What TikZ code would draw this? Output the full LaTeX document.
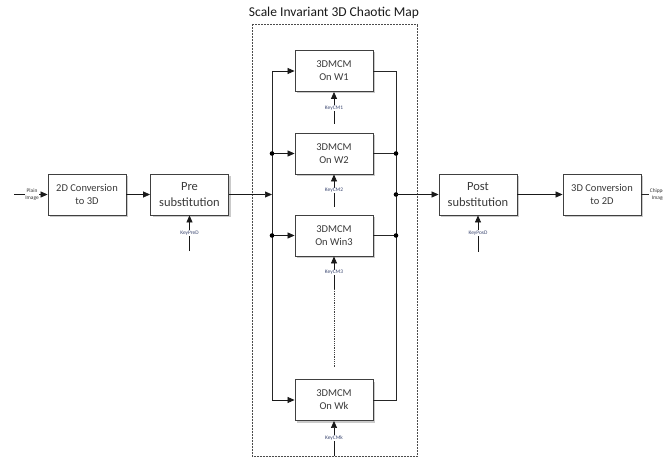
\documentclass[tikz,border=0pt]{standalone}
\usepackage{fontspec}
\setmainfont{Carlito}
\usetikzlibrary{arrows.meta,shadows}
\definecolor{boxline}{HTML}{404040}
\definecolor{boxtext}{HTML}{3A3A3A}
\definecolor{keytext}{HTML}{3A4670}
\begin{document}
\begin{tikzpicture}[x=1pt,y=-1pt,
  blk/.style={draw=boxline,line width=0.9pt,fill=white,minimum width=78pt,minimum height=41pt,
    align=center,text=boxtext,inner sep=1pt,
    drop shadow={shadow xshift=2pt,shadow yshift=-2pt,opacity=0.35,fill=black!60}},
  small/.style={font=\fontsize{10.5}{13}\selectfont},
  big/.style={font=\fontsize{12.5}{16}\selectfont},
  arr/.style={-{Triangle[length=7pt,width=6pt]},line width=0.7pt,draw=black!90},
  wire/.style={line width=0.7pt,draw=black!85},
  keylbl/.style={fill=white,inner sep=0.6pt,font=\fontsize{5.4}{6.5}\selectfont,text=keytext,align=center},
  dot/.style={circle,fill=black,inner sep=0pt,minimum size=4.6pt}]
\useasboundingbox (0,0) rectangle (663,457);

% title and frame
\node[font=\fontsize{13.5}{16}\selectfont,text=black!90] (title) at (334,12.5) {Scale Invariant 3D Chaotic Map};
\draw[densely dotted,line width=0.5pt,draw=black!70] (252,24) rectangle (417,456);

% blocks
\node[blk,small] (conv2d) at (87,194.5) {2D Conversion\\to 3D};
\node[blk,big] (pre) at (189.5,194.5) {Pre\\substitution};
\node[blk,small] (w1) at (334,71) {3DMCM\\On W1};
\node[blk,small] (w2) at (334,153.5) {3DMCM\\On W2};
\node[blk,small] (w3) at (334,235.5) {3DMCM\\On Win3};
\node[blk,small] (wk) at (334,400) {3DMCM\\On Wk};
\node[blk,big] (post) at (478,194.5) {Post\\substitution};
\node[blk,small] (conv3d) at (602,194.5) {3D Conversion\\to 2D};

% bus coordinates
\coordinate (lbus) at (272,194.5);
\coordinate (rbus) at (396,194.5);
\coordinate (pin) at (14,194.5);
\coordinate (pout) at (663,194.5);

% input
\draw[arr] (pin) -- (conv2d.west);
\node[keylbl,text=black!80] (plain) at (32,194.5) {Plain\\Image};
\draw[arr] (conv2d.east) -- (pre.west);
\draw[arr] (pre.east) -- (lbus);

% left bus
\draw[wire] (w1.west -| lbus) -- (wk.west -| lbus);
\draw[arr] (w1.west -| lbus) -- (w1.west);
\draw[arr] (w2.west -| lbus) -- (w2.west);
\draw[arr] (w3.west -| lbus) -- (w3.west);
\draw[arr] (wk.west -| lbus) -- (wk.west);
\node[dot] (dl2) at (w2.west -| lbus) {};
\node[dot] (dl3) at (w3.west -| lbus) {};

% right bus
\draw[wire] (w1.east) -- (w1.east -| rbus) -- (wk.east -| rbus) -- (wk.east);
\draw[wire] (w2.east) -- (w2.east -| rbus);
\draw[wire] (w3.east) -- (w3.east -| rbus);
\node[dot] (dr2) at (w2.east -| rbus) {};
\node[dot] (dr3) at (w3.east -| rbus) {};
\node[dot] (drm) at (rbus) {};

\draw[arr] (rbus) -- (post.west);
\draw[arr] (post.east) -- (conv3d.west);
\draw[wire] (conv3d.east) -- (pout);
\node[keylbl,text=black!80] (cipher) at (658.5,194.5) {Chipper\\Image};

% keys
\coordinate (kpre) at (189.5,251);
\coordinate (kpos) at (478,251.5);
\coordinate (k1) at (334,124);
\coordinate (k2) at (334,206.5);
\coordinate (k3) at (334,289);
\coordinate (kdots) at (334,368);
\coordinate (kk) at (334,456);
\draw[arr] (kpre) -- (pre.south);
\node[keylbl] (lpre) at (189.5,233) {KeyPreD};
\draw[arr] (kpos) -- (post.south);
\node[keylbl] (lpos) at (478,233) {KeyPosD};
\draw[arr] (k1) -- (w1.south);
\node[keylbl] (l1) at (334,108) {KeyCM1};
\draw[arr] (k2) -- (w2.south);
\node[keylbl] (l2) at (334,190.5) {KeyCM2};
\draw[arr] (k3) -- (w3.south);
\node[keylbl] (l3) at (334,272.5) {KeyCM3};
\draw[dash pattern=on 0.6pt off 1.2pt,line width=0.4pt,draw=black!75] (k3) -- (kdots);
\draw[arr] (kk) -- (wk.south);
\node[keylbl] (lk) at (334,438) {KeyCMk};
\end{tikzpicture}
\end{document}
